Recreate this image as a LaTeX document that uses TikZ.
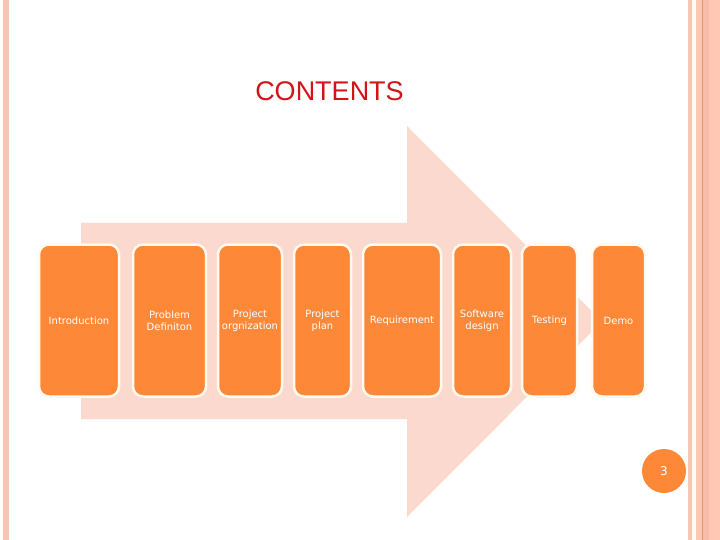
\documentclass[tikz,border=0pt]{standalone}
\usepackage{fontspec}
\setmainfont{DejaVu Sans}
\newfontfamily\titlefont{Liberation Sans}
\definecolor{boxorange}{RGB}{253,136,56}
\definecolor{arrowpink}{RGB}{252,217,206}
\definecolor{stripepink}{RGB}{248,196,180}
\definecolor{stripepinkb}{RGB}{251,200,182}
\definecolor{stripepinkc}{RGB}{249,188,168}
\definecolor{stripepinkd}{RGB}{255,200,180}
\definecolor{stripeline}{RGB}{232,148,106}
\definecolor{titlered}{RGB}{210,20,25}
\definecolor{cream}{RGB}{255,250,240}
\begin{document}
\begin{tikzpicture}[x=1pt,y=-1pt,
  stage/.style={rectangle, rounded corners=10pt, fill=boxorange, draw=cream,
    line width=2.5pt, inner sep=0pt, minimum height=152pt, align=center,
    text=white, font=\fontsize{10}{12}\selectfont}]
\useasboundingbox (0,0) rectangle (720,540);
\fill[white] (0,0) rectangle (720,540);
% borders
\fill[stripepink] (3,0) rectangle (9,540);
\fill[stripepink] (688,0) rectangle (692,540);
\fill[cream] (692,0) rectangle (696,540);
\fill[stripepinkb] (696,0) rectangle (702,540);
\fill[stripeline] (702,0) rectangle (703.2,540);
\fill[stripepinkc] (703.2,0) rectangle (709,540);
\fill[stripepinkd] (709,0) rectangle (720,540);
% big arrow
\fill[arrowpink] (81,223) -- (407,223) -- (407,126) -- (602,321.5) -- (407,517) -- (407,419) -- (81,419) -- cycle;
% title
\node[text=titlered, font=\titlefont\fontsize{27}{30}\selectfont] (title) at (329.5,91.5) {CONTENTS};
% stages
\node[stage, minimum width=80pt] (b1) at (79,320.5) {Introduction};
\node[stage, minimum width=73pt] (b2) at (169.5,320.5) {Problem\\Definiton};
\node[stage, minimum width=64pt] (b3) at (250,320.5) {Project\\orgnization};
\node[stage, minimum width=57pt] (b4) at (322.5,320.5) {Project\\plan};
\node[stage, minimum width=78pt] (b5) at (402,320.5) {Requirement};
\node[stage, minimum width=58pt] (b6) at (482,320.5) {Software\\design};
\node[stage, minimum width=55pt] (b7) at (549.5,320.5) {Testing};
\node[stage, minimum width=53pt] (b8) at (618.5,320.5) {Demo};
% page number
\node[circle, fill=boxorange, minimum size=44pt, inner sep=0pt, text=white,
  font=\fontsize{12}{14}\selectfont] (pg) at (664,471) {3};
\end{tikzpicture}
\end{document}
